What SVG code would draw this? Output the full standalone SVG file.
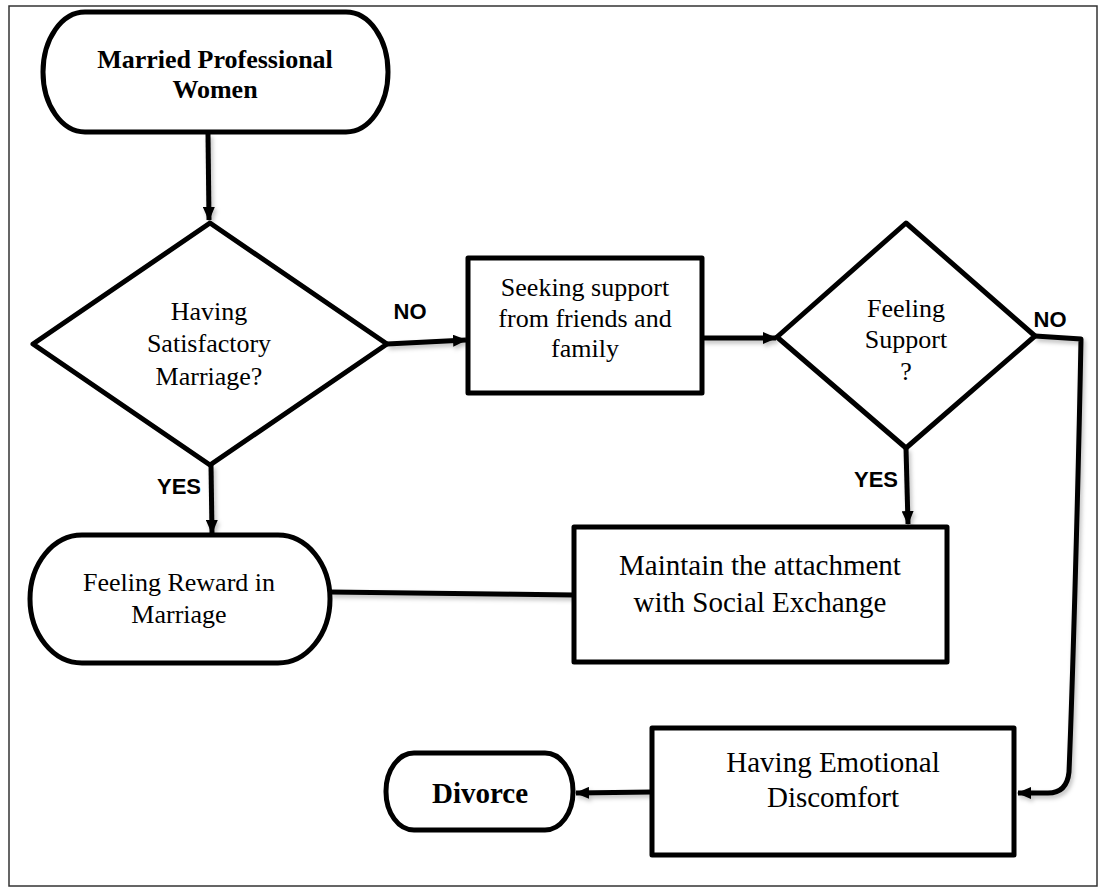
<svg xmlns="http://www.w3.org/2000/svg" width="1103" height="890" viewBox="0 0 1103 890">
<style>
.frame{fill:#fff;stroke:#333;stroke-width:1.5}
.shape{fill:#fff;stroke:#000;stroke-width:5;stroke-linejoin:round}
.conn{fill:none;stroke:#000;stroke-width:5;stroke-linejoin:round}
.t{font-family:"Liberation Serif","Times New Roman",serif;font-size:26px;fill:#000;text-anchor:middle}
.tb{font-weight:bold}
.big{font-size:29px}
.lbl{font-family:"Liberation Sans",Arial,sans-serif;font-weight:bold;font-size:22px;fill:#000;text-anchor:middle}
</style>
<defs>
<marker id="ah" markerUnits="userSpaceOnUse" viewBox="0 0 14 12" refX="13" refY="6" markerWidth="14" markerHeight="12" orient="auto">
<path d="M0,0 L14,6 L0,12 Z" fill="#000"/>
</marker>
<filter id="sh" filterUnits="userSpaceOnUse" x="0" y="0" width="1103" height="890">
<feDropShadow dx="2" dy="3" stdDeviation="2" flood-color="#000" flood-opacity="0.25"/>
</filter>
</defs>
<rect class="frame" x="9" y="6" width="1088" height="880"/>

<g id="connectors">
<g filter="url(#sh)">
<line class="conn" x1="208" y1="134" x2="209" y2="220" marker-end="url(#ah)"/>
<line class="conn" x1="387" y1="344" x2="466" y2="340" marker-end="url(#ah)"/>
<line class="conn" x1="702" y1="338" x2="776" y2="338" marker-end="url(#ah)"/>
<path class="conn" d="M1035,336 L1081,339 C1078,500 1072,700 1069,772 Q1067,793 1048,793 L1018,793" marker-end="url(#ah)"/>
<line class="conn" x1="211" y1="465" x2="212" y2="533" marker-end="url(#ah)"/>
<line class="conn" x1="906" y1="448" x2="908" y2="524" marker-end="url(#ah)"/>
<line class="conn" x1="330" y1="592" x2="574" y2="595"/>
<line class="conn" x1="652" y1="792" x2="576" y2="793" marker-end="url(#ah)"/>
</g>
<text class="lbl" x="410" y="319">NO</text>
<text class="lbl" x="1050" y="327">NO</text>
<text class="lbl" x="179" y="494">YES</text>
<text class="lbl" x="876" y="487">YES</text>
</g>

<g id="start">
<rect class="shape" x="43" y="12" width="345" height="120" rx="42" ry="60"/>
<text class="t tb" x="215" y="68">Married Professional</text>
<text class="t tb" x="215" y="98">Women</text>
</g>

<g id="satisfactory">
<polygon class="shape" points="210,223 387,344 210,465 33,344"/>
<text class="t" x="209" y="320">Having</text>
<text class="t" x="209" y="352">Satisfactory</text>
<text class="t" x="209" y="385">Marriage?</text>
</g>

<g id="seeking">
<rect class="shape" x="468" y="258" width="234" height="135"/>
<text class="t" x="585" y="296">Seeking support</text>
<text class="t" x="585" y="327">from friends and</text>
<text class="t" x="585" y="357">family</text>
</g>

<g id="feelingsupport">
<polygon class="shape" points="906,223 1035,336 906,448 777,337"/>
<text class="t" x="906" y="317">Feeling</text>
<text class="t" x="906" y="348">Support</text>
<text class="t" x="906" y="380">?</text>
</g>

<g id="reward">
<rect class="shape" x="30" y="535" width="300" height="128" rx="52" ry="64"/>
<text class="t" x="179" y="591">Feeling Reward in</text>
<text class="t" x="179" y="623">Marriage</text>
</g>

<g id="maintain">
<rect class="shape" x="574" y="527" width="373" height="135"/>
<text class="t big" x="760" y="575">Maintain the attachment</text>
<text class="t big" x="760" y="612">with Social Exchange</text>
</g>

<g id="emotional">
<rect class="shape" x="652" y="728" width="362" height="127"/>
<text class="t big" x="833" y="772">Having Emotional</text>
<text class="t big" x="833" y="807">Discomfort</text>
</g>

<g id="divorce">
<rect class="shape" x="386" y="753" width="187" height="77" rx="28" ry="38"/>
<text class="t tb big" x="480" y="803">Divorce</text>
</g>
</svg>
